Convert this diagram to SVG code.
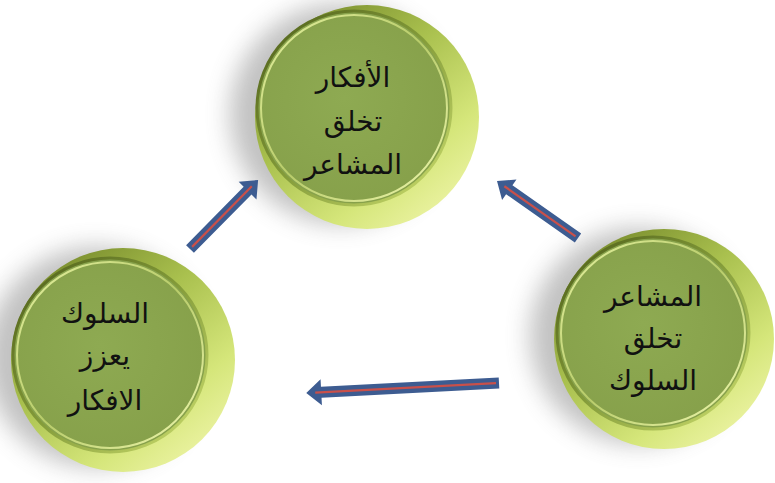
<svg xmlns="http://www.w3.org/2000/svg" width="775" height="483" viewBox="0 0 775 483">
<defs>
<style>
.rim{fill:url(#rimG)}
.face{fill:url(#faceG);stroke:url(#edgeG);stroke-width:3}
.hl{fill:none;stroke:url(#hlG);stroke-width:2}
.shadow{fill:#777777;opacity:0.45;filter:url(#blur)}
.lbl{font-family:"DejaVu Sans","Noto Sans",sans-serif;font-size:28px;fill:#111;text-anchor:middle}
.ab{fill:#3d5c91}
.ar{stroke:#c9504a;stroke-width:2.2;fill:none}
</style>
<filter id="blur" x="-50%" y="-50%" width="200%" height="200%"><feGaussianBlur stdDeviation="12"/></filter>
<linearGradient id="rimG" x1="0.1" y1="0" x2="0.9" y2="1">
<stop offset="0" stop-color="#6f8226"/>
<stop offset="0.4" stop-color="#a9c04e"/>
<stop offset="0.72" stop-color="#d5e67a"/>
<stop offset="1" stop-color="#f3f7b0"/>
</linearGradient>
<radialGradient id="faceG" cx="0.45" cy="0.45" r="0.6">
<stop offset="0" stop-color="#8eaa52"/>
<stop offset="1" stop-color="#86a04a"/>
</radialGradient>
<linearGradient id="edgeG" x1="0" y1="0" x2="1" y2="1">
<stop offset="0" stop-color="#4c5c18"/>
<stop offset="0.5" stop-color="#849c3a"/>
<stop offset="1" stop-color="#cfe070"/>
</linearGradient>
<linearGradient id="hlG" x1="0" y1="0" x2="1" y2="1">
<stop offset="0" stop-color="#e4f0a0"/>
<stop offset="0.5" stop-color="#b8cc6a"/>
<stop offset="1" stop-color="#f0f8b0"/>
</linearGradient>
</defs>
<rect width="775" height="483" fill="#ffffff"/>

<g id="node-top">
<circle class="shadow" cx="340" cy="114" r="110"/>
<circle class="rim" cx="367" cy="117" r="112"/>
<circle class="face" cx="354" cy="108" r="97"/>
<circle class="hl" cx="354" cy="108" r="93"/>
<text class="lbl" x="353" y="87">الأفكار</text>
<text class="lbl" x="353" y="131">تخلق</text>
<text class="lbl" x="353" y="174">المشاعر</text>
</g>

<g id="node-left">
<circle class="shadow" cx="96" cy="357" r="110"/>
<circle class="rim" cx="123" cy="360" r="112"/>
<circle class="face" cx="110" cy="355" r="97"/>
<circle class="hl" cx="110" cy="355" r="93"/>
<text class="lbl" x="105" y="323">السلوك</text>
<text class="lbl" x="105" y="365">يعزز</text>
<text class="lbl" x="105" y="410">الافكار</text>
</g>

<g id="node-right">
<circle class="shadow" cx="638" cy="336" r="108"/>
<circle class="rim" cx="664" cy="339" r="110"/>
<circle class="face" cx="653" cy="333" r="96"/>
<circle class="hl" cx="653" cy="333" r="92"/>
<text class="lbl" x="653" y="306">المشاعر</text>
<text class="lbl" x="653" y="348">تخلق</text>
<text class="lbl" x="653" y="390">السلوك</text>
</g>

<g id="connectors">
<g transform="translate(190,249) rotate(-45.4)">
<path class="ab" d="M0,-5.5 L82,-5.5 L82,-12.5 L97,0 L82,12.5 L82,5.5 L0,5.5 Z"/>
<line class="ar" x1="3" y1="0" x2="88" y2="0"/>
</g>
<g transform="translate(578,238) rotate(215.1)">
<path class="ab" d="M0,-5.5 L84,-5.5 L84,-12.5 L99,0 L84,12.5 L84,5.5 L0,5.5 Z"/>
<line class="ar" x1="3" y1="0" x2="90" y2="0"/>
</g>
<g transform="translate(499,383) rotate(177)">
<path class="ab" d="M0,-5.5 L178,-5.5 L178,-13 L193,0 L178,13 L178,5.5 L0,5.5 Z"/>
<line class="ar" x1="3" y1="0" x2="184" y2="0"/>
</g>
</g>
</svg>
